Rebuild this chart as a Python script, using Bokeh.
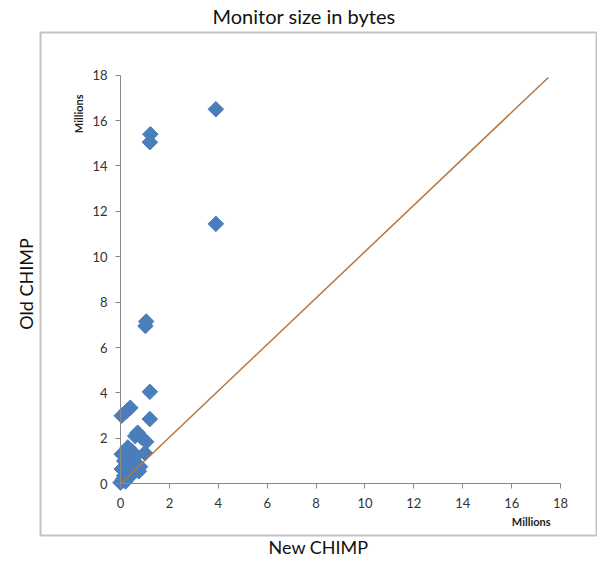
import math
from bokeh.plotting import figure
from bokeh.models import Range1d, LinearAxis, FixedTicker, Label, Title
from bokeh.embed import file_html
from bokeh.resources import INLINE

# ---- data (millions of bytes) ----
new_chimp = [3.9, 1.22, 1.2, 3.9, 1.05, 1.02, 1.2, 1.2,
             0.05, 0.25, 0.4, 0.7, 0.85, 1.05, 1.0, 0.05,
             0.3, 0.45, 0.15, 0.4, 0.6, 0.05, 0.15, 0.75,
             0.8, 0.55, 0.0, 0.2, 0.35, 0.25, 0.1, 0.6]
old_chimp = [16.5, 15.4, 15.05, 11.45, 7.15, 6.95, 4.05, 2.85,
             3.0, 3.2, 3.35, 2.25, 2.05, 1.85, 1.35, 1.3,
             1.6, 1.45, 1.0, 1.0, 1.2, 0.65, 0.35, 0.55,
             0.75, 0.5, 0.05, 0.1, 0.3, 0.7, 0.2, 2.1]
ref_x = [0.0, 17.5]
ref_y = [0.0, 17.9]
tick_values = [0, 2, 4, 6, 8, 10, 12, 14, 16, 18]
axis_bounds = (0, 18)

FONT = "Lato"
GRAY = "#898989"
BLUE = "#4A7EBB"

p = figure(width=597, height=560, output_backend="svg", toolbar_location=None,
           x_range=Range1d(-3.273, 19.47), y_range=Range1d(-2.28, 19.88),
           x_axis_type=None, y_axis_type=None,
           min_border_left=40, min_border_right=1, min_border_top=30, min_border_bottom=24)
p.outline_line_color = "#C4C4C4"
p.outline_line_width = 2
p.background_fill_color = "white"
p.border_fill_color = "white"

title = Title(text="Monitor size in bytes", align="left", vertical_align="top", text_font=FONT,
              text_font_size="20px", text_font_style="normal", text_color="#111111",
              standoff=6, offset=172)
p.add_layout(title, "above")

def tick_axis(**kw):
    return LinearAxis(ticker=FixedTicker(ticks=tick_values), fixed_location=0, bounds=axis_bounds,
                      major_tick_out=5, major_tick_in=0, minor_tick_line_color=None,
                      axis_line_color=GRAY, major_tick_line_color=GRAY,
                      major_label_text_font=FONT, major_label_text_font_size="13px",
                      major_label_text_color="#333333", **kw)

p.add_layout(tick_axis(major_label_standoff=8), "left")
p.add_layout(tick_axis(major_label_standoff=9), "below")

def label_axis(text, standoff):
    return LinearAxis(ticker=FixedTicker(ticks=[]), axis_label=text,
                      axis_line_color=None, major_tick_line_color=None,
                      minor_tick_line_color=None, major_tick_out=0, major_tick_in=0,
                      major_label_text_font_size="0px",
                      axis_label_text_font=FONT, axis_label_text_font_size="18px",
                      axis_label_text_font_style="normal", axis_label_text_color="#111111",
                      axis_label_standoff=standoff)

p.add_layout(label_axis("Old CHIMP", 4), "left")
p.add_layout(label_axis("New CHIMP", 0), "below")

p.scatter(new_chimp, old_chimp, marker="square", angle=math.pi / 4, size=11,
          fill_color=BLUE, line_color=BLUE)
p.line(ref_x, ref_y, line_color="#B8763E", line_width=1.5)

p.add_layout(Label(x=-1.72, y=16.3, text="Millions", angle=math.pi / 2,
                   text_font=FONT, text_font_size="11px", text_font_style="bold",
                   text_color="#222222", text_align="center", text_baseline="middle"))
p.add_layout(Label(x=16.8, y=-1.66, text="Millions",
                   text_font=FONT, text_font_size="11px", text_font_style="bold",
                   text_color="#222222", text_align="center", text_baseline="middle"))

open("out.html", "w").write(file_html(p, INLINE))
